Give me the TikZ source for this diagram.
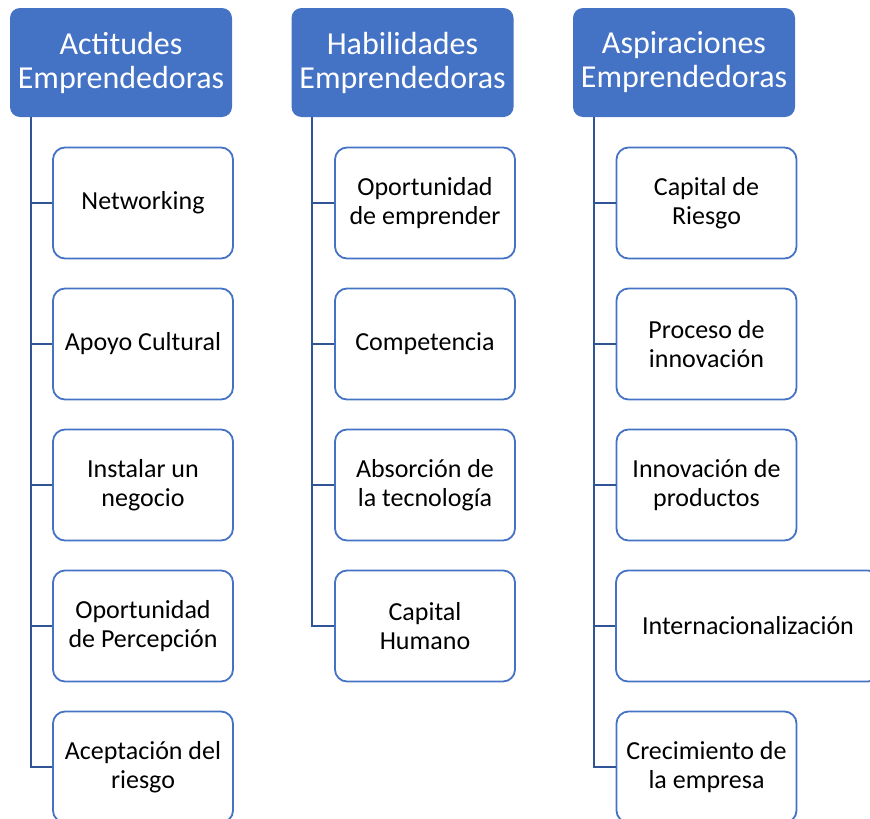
\documentclass[tikz,border=0pt]{standalone}
\usepackage{fontspec}
\setmainfont{Carlito}
\definecolor{hdrblue}{HTML}{4472C4}
\definecolor{lineblue}{HTML}{2F5597}
\begin{document}
\begin{tikzpicture}[x=1pt,y=-1pt,
  hdr/.style={draw=none,fill=hdrblue,text=white,rounded corners=10pt,minimum width=222pt,minimum height=109pt,inner sep=0pt,align=center,font=\fontsize{32}{34}\selectfont},
  item/.style={draw=hdrblue,line width=1.8pt,fill=white,rounded corners=12pt,minimum width=180pt,minimum height=111pt,inner sep=0pt,align=center,font=\fontsize{26}{29.5}\selectfont},
  conn/.style={draw=lineblue,line width=2.4pt}]
\useasboundingbox (0,0) rectangle (870,819);
\clip (0,0) rectangle (870,819);
% column 1
\node[hdr] (h1) at (121,62.5) {Actitudes\\Emprendedoras};
\coordinate (t1) at (31,117);
\node[item] (a1) at (143,203) {Networking};
\node[item] (a2) at (143,344) {Apoyo Cultural};
\node[item] (a3) at (143,485) {Instalar un\\negocio};
\node[item] (a4) at (143,626) {Oportunidad\\de Percepción};
\node[item] (a5) at (143,767) {Aceptación del\\riesgo};
% column 2
\node[hdr] (h2) at (402.5,62.5) {Habilidades\\Emprendedoras};
\coordinate (t2) at (312,117);
\node[item] (b1) at (425,203) {Oportunidad\\de emprender};
\node[item] (b2) at (425,344) {Competencia};
\node[item] (b3) at (425,485) {Absorción de\\la tecnología};
\node[item] (b4) at (425,626) {Capital\\Humano};
% column 3
\node[hdr] (h3) at (684,62.5) {Aspiraciones\\Emprendedoras};
\coordinate (t3) at (594,117);
\node[item] (c1) at (706.5,203) {Capital de\\Riesgo};
\node[item] (c2) at (706.5,344) {Proceso de\\innovación};
\node[item] (c3) at (706.5,485) {Innovación de\\productos};
\node[item,minimum width=264pt] (c4) at (748,626) {Internacionalización};
\node[item] (c5) at (706.5,767) {Crecimiento de\\la empresa};
% connectors
\foreach \n in {a1,a2,a3,a4,a5}{\draw[conn] (t1) |- (\n.west);}
\foreach \n in {b1,b2,b3,b4}{\draw[conn] (t2) |- (\n.west);}
\foreach \n in {c1,c2,c3,c4,c5}{\draw[conn] (t3) |- (\n.west);}
\end{tikzpicture}
\end{document}
